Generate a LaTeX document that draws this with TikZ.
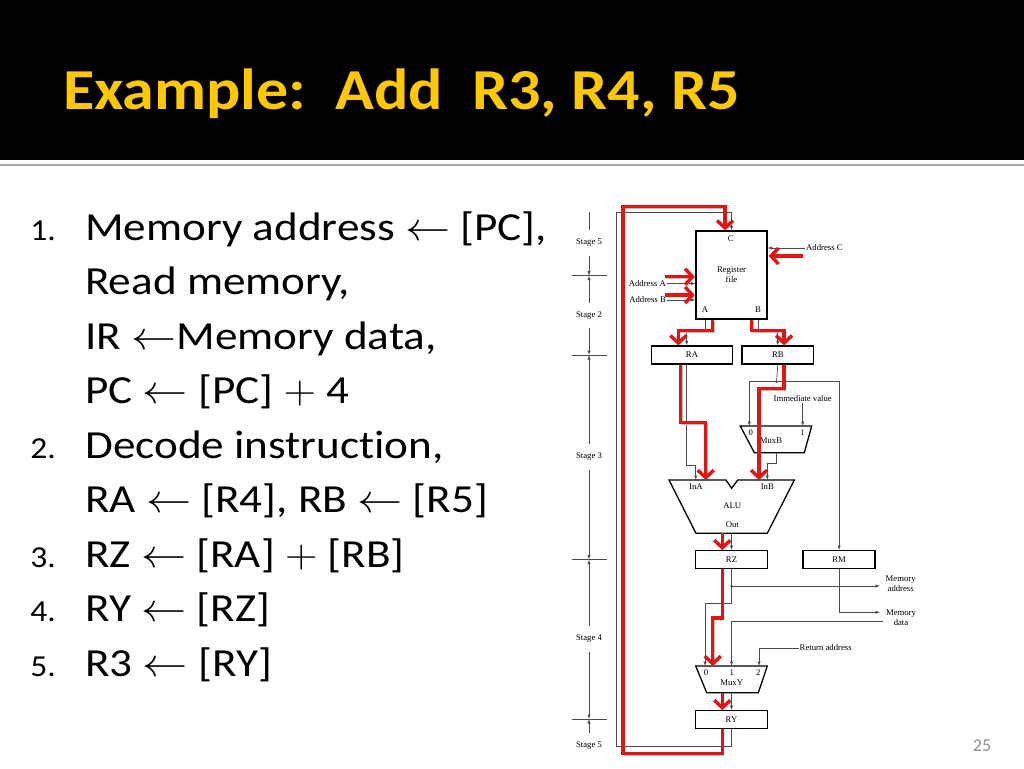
\RequirePackage{fix-cm}
\documentclass[tikz,border=0pt]{standalone}
\usepackage{fontspec}
\setmainfont{Carlito}[Ligatures=NoCommon]
\newfontfamily\figfont{Liberation Serif}
\usetikzlibrary{arrows.meta,positioning}
\definecolor{hilite}{RGB}{226,20,20}
\definecolor{titlegold}{RGB}{255,200,0}
\tikzstyle{figlbl}=[font=\figfont\fontsize{8.7}{9.8}\selectfont, inner sep=1pt]
\tikzstyle{wire}=[draw=black!70, line width=0.7pt]
\tikzstyle{post}=[wire,-{Latex[length=4.5pt,width=3.4pt]}]
\tikzstyle{sel}=[draw=hilite, line width=3.4pt, -{Straight Barb[length=7.5pt,width=16pt]},
  preaction={draw=black!25, transform canvas={shift={(1pt,-1.5pt)}}}]
\tikzstyle{unit}=[draw, line width=1.3pt]
\tikzstyle{reg}=[unit, figlbl, inner sep=0pt, minimum height=17.6pt, minimum width=71.6pt]
\tikzstyle{stagelbl}=[figlbl, inner ysep=8.5pt]
\tikzstyle{bodytxt}=[anchor=base west, inner sep=0pt, xscale=1.135, font=\fontsize{39.8}{44}\selectfont]
\tikzstyle{numtxt}=[anchor=base east, inner sep=0pt, xscale=1.1, font=\fontsize{30.5}{34}\selectfont]

\begin{document}
\begin{tikzpicture}[x=1pt,y=-1pt]
\useasboundingbox (0,0) rectangle (1024,768);

% slide header
\fill[black] (0,0) rectangle (1024,159.5);
\draw[black!35, line width=2.5pt] (0,165) -- (1024,165);
\node[anchor=base west, inner sep=0pt, xscale=1.104, text=titlegold, font=\bfseries\fontsize{58}{62}\selectfont]
  (title) at (63,109.3) {Example:\ \ Add\ \ R3, R4, R5};

% steps
\node[numtxt] (n1) at (56,240) {1.};
\node[bodytxt] (l1a) at (85,240) {Memory address $\leftarrow$ [PC],};
\node[bodytxt] (l1b) at (85,294.5) {Read memory,};
\node[bodytxt] (l1c) at (85,349) {IR $\leftarrow$Memory data,};
\node[bodytxt] (l1d) at (85,403.5) {PC $\leftarrow$ [PC] $+$ 4};
\node[numtxt] (n2) at (56,458) {2.};
\node[bodytxt] (l2a) at (85,458) {Decode instruction,};
\node[bodytxt] (l2b) at (85,512.5) {RA $\leftarrow$ [R4], RB $\leftarrow$ [R5]};
\node[numtxt] (n3) at (56,567) {3.};
\node[bodytxt] (l3) at (85,567) {RZ $\leftarrow$ [RA] $+$ [RB]};
\node[numtxt] (n4) at (56,621.5) {4.};
\node[bodytxt] (l4) at (85,621.5) {RY $\leftarrow$ [RZ]};
\node[numtxt] (n5) at (56,676) {5.};
\node[bodytxt] (l5) at (85,676) {R3 $\leftarrow$ [RY]};

% registers
\node[unit, figlbl, minimum width=71pt, minimum height=88pt, align=center] (RF) at (731.5,275) {Register\\file};
\node[figlbl] (rfC) at (730.7,239) {C};
\node[figlbl] (rfA) at (705,310) {A};
\node[figlbl] (rfB) at (758,310) {B};
\node[reg, minimum width=80.6pt, minimum height=18pt] (RA) at (692,355) {RA};
\node[reg, minimum width=71.4pt, minimum height=18pt, right=8.5pt of RA] (RB) {RB};
\node[reg] (RZ) at (731.5,559.5) {RZ};
\node[reg, minimum width=72pt, right=34.5pt of RZ] (RM) {RM};
\node[reg] (RY) at (731.5,719.5) {RY};

% muxes and alu
\draw[unit] (740.3,426) -- (811.7,426) -- (804.3,452.7) -- (754.3,452.7) -- cycle;
\node[figlbl] (mbl0) at (750.7,432.7) {0};
\node[figlbl] (mbl1) at (802.3,432.7) {1};
\node[figlbl] (mbl) at (771,440.7) {MuxB};
\draw[unit] (669,480) -- (726,480) -- (731.7,488.3) -- (737.7,480) -- (794.3,480)
  -- (767.3,533.3) -- (696,533.3) -- cycle;
\node[figlbl] (alA) at (696,486.7) {InA};
\node[figlbl] (alB) at (767.3,486.7) {InB};
\node[figlbl] (alu) at (732.3,506) {ALU};
\node[figlbl] (alO) at (732.3,525) {Out};
\draw[unit] (695.7,666) -- (767.3,666) -- (758.3,692.7) -- (706.7,692.7) -- cycle;
\node[figlbl] (myl0) at (706,672.7) {0};
\node[figlbl] (myl1) at (731.7,672.7) {1};
\node[figlbl] (myl2) at (758.3,672.7) {2};
\node[figlbl] (myl) at (731.7,682.7) {MuxY};

\coordinate (mb0) at (749.3,426);  \coordinate (mb1) at (802.7,426);
\coordinate (mbOut) at (776.7,452.7);
\coordinate (aluA) at (695.7,480); \coordinate (aluAr) at (705.7,480);
\coordinate (aluB) at (767.3,480); \coordinate (aluBr) at (759,480);
\coordinate (aluO) at (731.5,533.3); \coordinate (aluOr) at (722.3,533.3);
\coordinate (my0) at (705,666); \coordinate (my0r) at (712.7,666);
\coordinate (my1) at (731.5,666); \coordinate (my2) at (759,666);
\coordinate (myO) at (731.5,692.7); \coordinate (myOr) at (722.3,692.7);
\coordinate (jB) at (776.5,381.7); \coordinate (jZ) at (731.5,586);
\coordinate (maOut) at (880,586); \coordinate (mdOut) at (880,612.3);
\coordinate (mdIn) at (883,621.7);

% outside labels
\node[figlbl, anchor=west] (adrC) at (805,248) {Address C};
\node[figlbl, anchor=east] (adrA) at (667,283.5) {Address A};
\node[figlbl, anchor=east] (adrB) at (667,300) {Address B};
\node[figlbl] (imm) at (802.7,399) {Immediate value};
\node[figlbl, align=center] (memAddr) at (900.7,584) {Memory\\address};
\node[figlbl, align=center] (memData) at (901,617.5) {Memory\\data};
\node[figlbl] (ret) at (825.7,648) {Return address};

% datapath wires
\draw[post] (RY.south) -- ++(0,17.4) -| (616,212.3) -| (RF.north);
\draw[post] (adrC.west) -- (RF.east |- adrC.west);
\draw[post] (adrA.east) -- (RF.west |- adrA.east);
\draw[post] (adrB.east) -- (RF.west |- adrB.east);
\draw[post] ([xshift=-26.5pt]RF.south) -- ++(0,9.3) -| ([xshift=-5.3pt]RA.north);
\draw[post] ([xshift=26.5pt]RF.south) -- ++(0,9.3) -| (RB.north);
\draw[post] ([xshift=-5.3pt]RA.south) -- ++(0,101) -| (aluA);
\draw[wire] (RB.south) -- (jB);
\draw[post] (jB) -| (mb0);
\draw[post] (jB) -| (RM.north);
\draw[post] (imm.south) -- (mb1);
\draw[post] (mbOut) -- ++(0,10.6) -| (aluB);
\draw[post] (aluO) -- (RZ.north);
\draw[wire] (RZ.south) -- (jZ);
\draw[post] (jZ) -- (maOut);
\draw[post] (jZ) -- ++(0,17.3) -| (my0);
\draw[post] (RM.south) |- (mdOut);
\draw[post] (mdIn) -| (my1);
\draw[post] (ret.west) -| (my2);
\draw[post] (myO) -- (RY.north);
\fill[black!70] (jB) circle (1.4) (jZ) circle (1.4);

% stages
\coordinate (t1) at (589,275.7); \coordinate (t2) at (589,355);
\coordinate (t3) at (589,559.5); \coordinate (t4) at (589,719);
\node[stagelbl] (s5a) at (589,243) {Stage 5};
\node[stagelbl] (s2) at (589,315.7) {Stage 2};
\node[stagelbl] (s3) at (589,457) {Stage 3};
\node[stagelbl] (s4) at (589,639) {Stage 4};
\node[stagelbl] (s5b) at (589,745.7) {Stage 5};
\foreach \t in {t1,t2,t3,t4}
  \draw[wire] (\t) ++(-17,0) -- ++(35,0);
\draw[wire] (s5a.north) -- ++(0,-18);
\draw[post] (s5a.south) -- (t1);
\draw[post] (s2.north) -- (t1);
\draw[post] (s2.south) -- (t2);
\draw[post] (s3.north) -- (t2);
\draw[post] (s3.south) -- (t3);
\draw[post] (s4.north) -- (t3);
\draw[post] (s4.south) -- (t4);
\draw[post] (s5b.north) -- (t4);

% highlighted flow
\draw[sel] ([xshift=-9.2pt]RY.south) -- ++(0,24.7) -| (623,206.7) -| ([xshift=-6.5pt]RF.north);
\draw[sel] ([xshift=35pt,yshift=19pt]RF.east) -- ([xshift=1pt,yshift=19pt]RF.east);
\draw[sel] ([xshift=-30pt,yshift=-1.7pt]RF.west) -- ([xshift=-0.5pt,yshift=-1.7pt]RF.west);
\draw[sel] ([xshift=-30pt,yshift=-20pt]RF.west) -- ([xshift=-0.5pt,yshift=-20pt]RF.west);
\draw[sel] ([xshift=-18.8pt]RF.south) -- ++(0,11) -| ([xshift=-13.7pt]RA.north);
\draw[sel] ([xshift=20.2pt]RF.south) -- ++(0,11) -| ([xshift=6.2pt]RB.north);
\draw[sel] ([xshift=-11.3pt]RA.south) -- ++(0,57.7) -| (aluAr);
\draw[sel] ([xshift=6.2pt]RB.south) -- ++(0,24) -| (aluBr);
\draw[sel] (aluOr) -- ([xshift=-9.2pt]RZ.north);
\draw[sel] ([xshift=-9.2pt]RZ.south) -- ++(0,49) -| (my0r);
\draw[sel] (myOr) -- ([xshift=-9.2pt]RY.north);

\node[anchor=base, inner sep=0pt, text=black!45, font=\fontsize{18}{20}\selectfont] (pgnum) at (982,751.7) {25};
\end{tikzpicture}
\end{document}
